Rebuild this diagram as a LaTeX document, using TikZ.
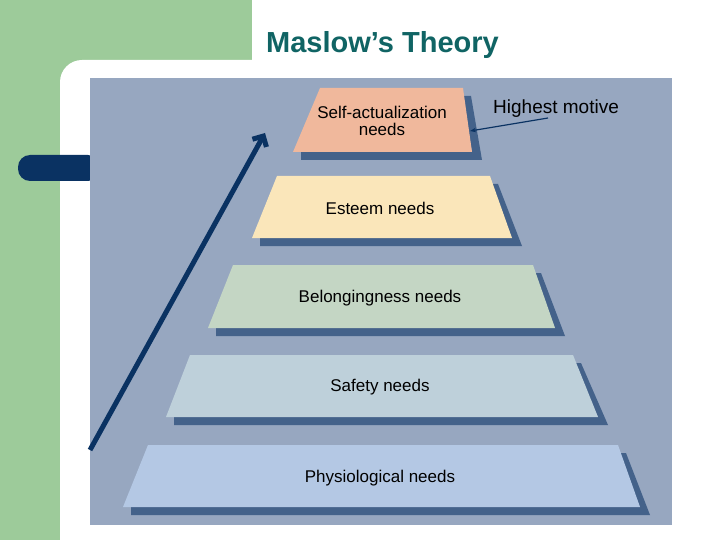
\documentclass[tikz,border=0pt]{standalone}
\usepackage{fontspec}
\setmainfont{Liberation Sans}
\usetikzlibrary{arrows.meta}
\begin{document}
\begin{tikzpicture}[x=1pt,y=-1pt,
  lvl/.style={font=\fontsize{17}{17}\selectfont, align=center, inner sep=0pt},
  shad/.style={fill=shadowc}]
\definecolor{greenc}{HTML}{9DCB9A}
\definecolor{panelc}{HTML}{97A7C0}
\definecolor{shadowc}{HTML}{44628A}
\definecolor{navyc}{HTML}{0A3262}
\definecolor{titlec}{HTML}{106464}
\definecolor{cA}{HTML}{F0B89C}
\definecolor{cB}{HTML}{FAE6BA}
\definecolor{cC}{HTML}{C4D6C4}
\definecolor{cD}{HTML}{BED0DA}
\definecolor{cE}{HTML}{B4C8E4}
\useasboundingbox (0,0) rectangle (720,540);
\fill[white] (0,0) rectangle (720,540);
\fill[greenc] (0,0) rectangle (252,540);
\fill[white,rounded corners=22pt] (60,60) -- (720,60) -- (720,560) -- (60,560) -- cycle;
\fill[navyc,rounded corners=12pt] (18,155) rectangle (100,181);
\fill[panelc] (90,78) rectangle (672,525);
\node[font=\bfseries\fontsize{29}{32}\selectfont, text=titlec, anchor=west, inner sep=0pt] (title) at (266,45) {Maslow’s Theory};
\foreach \yt/\yb/\tl/\tr/\bl/\br/\c in {88/152/320/463/293/472/cA, 176/238/277/490/252/512/cB, 265/328/233/533/208/555/cC, 355/417/190/573/166/598/cD, 445/507/148/618/123/640/cE}{
  \fill[shad] (\tr+8,\yt+8) -- (\br+10,\yb+8) -- (\bl+8,\yb+8) -- (\bl+8,\yb) -- (\br,\yb) -- (\tr,\yt+8) -- cycle;
  \fill[\c] (\tl,\yt) -- (\tr,\yt) -- (\br,\yb) -- (\bl,\yb) -- cycle;
}
\node[lvl] (l1) at (382,121) {Self-actualization\\needs};
\node[lvl] (l2) at (380,208) {Esteem needs};
\node[lvl] (l3) at (380,298) {Belongingness needs};
\node[lvl] (l4) at (380,387) {Safety needs};
\node[lvl] (l5) at (380,478) {Physiological needs};
\coordinate (a0) at (90,450);
\coordinate (a1) at (265,133);
\draw[navyc,line width=5pt,-{Straight Barb[length=8pt,width=16pt]}] (a0) -- (a1);
\node[font=\fontsize{19}{20}\selectfont, anchor=west, inner sep=0pt] (hm) at (493,109) {Highest motive};
\coordinate (h0) at (548,118);
\coordinate (h1) at (470,131);
\draw[navyc,line width=1.2pt,-{Stealth[length=6pt]}] (h0) -- (h1);
\end{tikzpicture}
\end{document}
